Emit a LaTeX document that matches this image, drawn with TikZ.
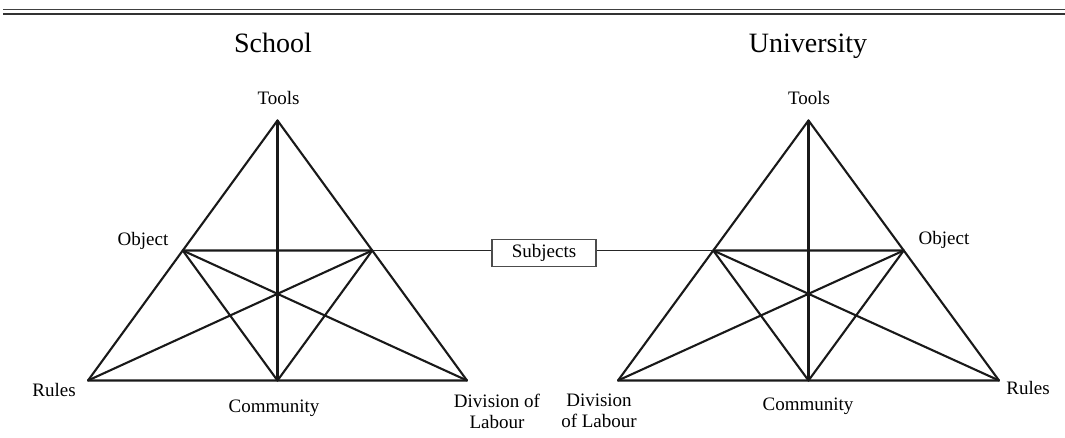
\documentclass[tikz,border=0pt]{standalone}
\usepackage{fontspec}
\setmainfont{Liberation Serif}
\usetikzlibrary{calc}
\begin{document}
\begin{tikzpicture}[x=1pt,y=-1pt,
  tri/.style={line width=2.1pt,line cap=round,line join=round,draw=black!90},
  lbl/.style={inner sep=0pt,anchor=base,font=\fontsize{19}{21}\selectfont,align=center},
  ttl/.style={inner sep=0pt,anchor=base,font=\fontsize{28}{30}\selectfont},
  subjbox/.style={draw=black!70,line width=1.2pt,minimum width=104pt,minimum height=27pt,inner sep=0pt,font=\fontsize{19}{21}\selectfont},
  link/.style={line width=1.6pt,draw=black!85}]
\useasboundingbox (0,0) rectangle (1065,438);
% header rules
\draw[line width=1pt,black!75] (3,9.7) -- (1065,9.7);
\draw[line width=2.2pt,black!80] (3,14.3) -- (1065,14.3);
% ---------- left triangle (School)
\coordinate (LT) at (277.5,120.5);
\coordinate (LR) at (88,380.5);
\coordinate (LD) at (467,380.5);
\coordinate (LC) at ($ (LR)!0.5!(LD) $);
\coordinate (LO) at ($ (LT)!0.5!(LR) $);
\coordinate (LS) at ($ (LT)!0.5!(LD) $);
% ---------- right triangle (University)
\coordinate (RT) at (808.5,120.5);
\coordinate (RD) at (618,380.5);
\coordinate (RR) at (999,380.5);
\coordinate (RC) at ($ (RD)!0.5!(RR) $);
\coordinate (RS) at ($ (RT)!0.5!(RD) $);
\coordinate (RO) at ($ (RT)!0.5!(RR) $);
% triangles
\draw[tri] (LT) -- (LR) -- (LD) -- cycle;
\draw[tri] (LO) -- (LS) -- (LC) -- cycle;
\draw[tri] (LT) -- (LC);
\draw[tri] (LR) -- (LS);
\draw[tri] (LD) -- (LO);
\draw[tri] (RT) -- (RD) -- (RR) -- cycle;
\draw[tri] (RS) -- (RO) -- (RC) -- cycle;
\draw[tri] (RT) -- (RC);
\draw[tri] (RD) -- (RO);
\draw[tri] (RR) -- (RS);
% Subjects
\node[subjbox] (subj) at (544,253) {Subjects};
\draw[link] (LS) -- (subj.west |- LS);
\draw[link] (subj.east |- RS) -- (RS);
% titles
\node[ttl] (school) at (273,53) {School};
\node[ttl] (univ) at (808,53) {University};
% left labels
\node[lbl] (ltools) at (278.5,105) {Tools};
\node[lbl] (lobj) at (143,245.5) {Object};
\node[lbl] (lrules) at (54,396) {Rules};
\node[lbl] (lcomm) at (274,412) {Community};
\node[lbl,anchor=north] (ldiv) at (497,394) {Division of\\Labour};
% right labels
\node[lbl] (rtools) at (809,105) {Tools};
\node[lbl] (robj) at (944,245) {Object};
\node[lbl] (rrules) at (1028,394) {Rules};
\node[lbl] (rcomm) at (808,410) {Community};
\node[lbl,anchor=north] (rdiv) at (599,394) {Division\\of Labour};
\end{tikzpicture}
\end{document}
